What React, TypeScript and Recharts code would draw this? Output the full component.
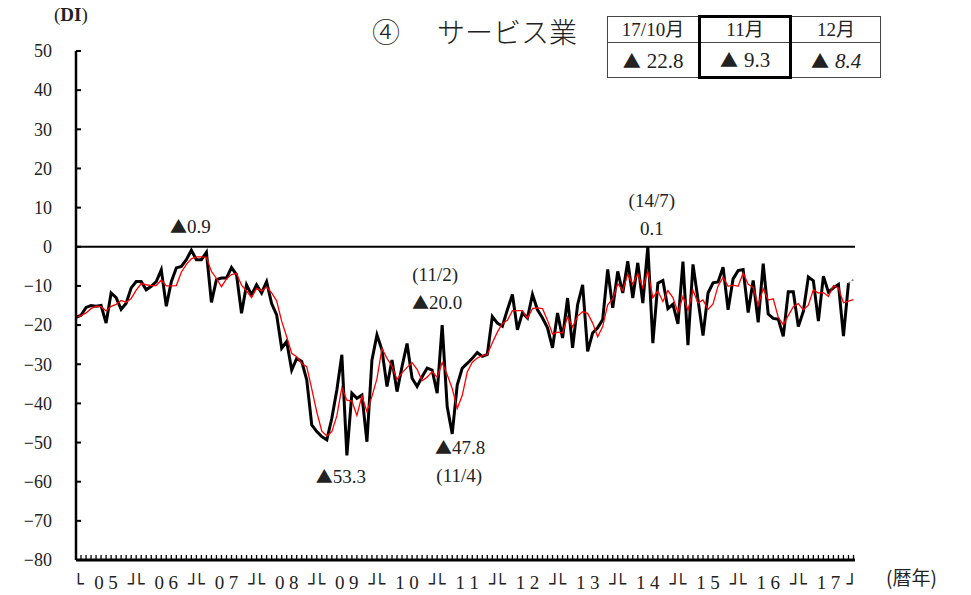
import React from "react";
import { LineChart, Line, XAxis, YAxis, ReferenceLine, ReferenceDot } from "recharts";

// monthly DI, 2005/01 .. 2017/11 (index 0 = 2005/01)
const DI = [
  -18, -17.5, -15.5, -15, -15.2, -15, -19.5, -11.8, -13, -16, -14.4, -10.5,
  -8.9, -8.9, -11, -10.1, -8.9, -5.9, -15.2, -8.9, -5.4, -5, -3.3, -0.9,
  -3.3, -3.3, -1.4, -14.2, -8.4, -8, -8, -5.3, -7.1, -17, -9.7, -12.3,
  -9.7, -11.8, -8.9, -14.5, -17.4, -25.9, -24.2, -31.5, -28.5, -29.3, -34, -45.5,
  -47.2, -48.5, -49.3, -43.8, -36.6, -27.6, -53.3, -37.4, -38.7, -37.9, -49.8, -28.9,
  -22.5, -26.4, -35.7, -28.9, -37, -30.6, -24.7, -33.6, -35.7, -33.2, -31, -31.5,
  -37.4, -20.0, -40.8, -47.8, -35.3, -31, -29.8, -28.5, -27, -28, -27.5, -17.8,
  -19.5, -20.3, -16.1, -12.2, -21.2, -16.9, -18.2, -12.2, -16.1, -18.2, -20.7, -25.8,
  -16.9, -23.3, -13.1, -25.8, -14.8, -9.7, -26.7, -22, -20.7, -18.6, -5.8, -15.6,
  -6.3, -11.8, -3.7, -13.1, -4.1, -14.4, 0.1, -24.6, -9.3, -8.6, -15.8, -14.7,
  -19.7, -3.8, -25.1, -4.5, -13.5, -22.7, -11.8, -9.2, -9, -5.2, -16.1, -8.2,
  -6.1, -5.8, -16.8, -8.6, -19.3, -4.3, -17.2, -18.3, -18.5, -22.9, -11.5, -11.5,
  -20.4, -16.5, -7.7, -8.7, -19, -7.5, -11.6, -10.5, -9.6, -22.8, -9.3,
];

// red line, 2005/01 .. 2017/12
const AVG = [
  -18, -17.6, -16.9, -15.8, -15.2, -15.3, -16.4, -15.2, -14.7, -13.7, -14.2, -13.2,
  -11.1, -9.4, -9.7, -9.9, -9.9, -8.5, -10, -10, -9.9, -6.5, -4.5, -3.1,
  -2.6, -2.6, -2.7, -6.3, -8.1, -10.2, -8.2, -7.1, -6.8, -9.8, -11.3, -13,
  -10.6, -11.3, -10.3, -11.8, -13.8, -19, -23, -27.2, -28.1, -29.8, -30.6, -36.3,
  -42.2, -47.1, -48.3, -47.2, -43.2, -36, -39.2, -39.4, -43.1, -38.1, -42.1, -38.2,
  -33.7, -26, -28.5, -30.5, -33.9, -32.2, -30.8, -29.6, -31.3, -34.2, -33.3, -31.9,
  -33.3, -29.6, -32.7, -36.2, -41.3, -38, -32, -29.5, -28.4, -27.8, -27.5, -24.5,
  -21.8, -19.6, -18.8, -16.3, -16.3, -16.3, -18.3, -15.8, -15.6, -15.8, -18.8, -22.3,
  -21.8, -22, -17.9, -20.5, -17.7, -16.6, -17, -19.5, -23, -20.4, -14.8, -13.3,
  -9.4, -11.2, -7, -9.5, -6.9, -10.5, -6.2, -13, -11.3, -14, -11.2, -13,
  -16.7, -12.7, -16.2, -11.1, -14.4, -13.6, -16, -14.6, -10, -7.8, -10.1, -9.8,
  -10.1, -6.7, -9.6, -10.4, -14.9, -10.7, -13.6, -13.3, -18, -19.9, -17.6, -15.3,
  -14.5, -16.1, -14.9, -11, -11.8, -11.7, -12.7, -9.9, -10.6, -14.3, -13.9, -13.5,
];

// 17/11 actual -> 17/12 forecast
const FORECAST = [-9.3, -8.4];
const FORECAST_START = 154;

const YEARS = ["05", "06", "07", "08", "09", "10", "11", "12", "13", "14", "15", "16", "17"];
const Y_TICKS = [50, 40, 30, 20, 10, 0, -10, -20, -30, -40, -50, -60, -70, -80];
const MONTH_TICKS = AVG.map((_, i) => i);

const TABLE_HEAD = ["17/10月", "11月", "12月"];
const TABLE_VALUES = ["22.8", "9.3", "8.4"];

const chartData = AVG.map((ma, m) => ({
  m,
  di: m < DI.length ? DI[m] : null,
  ma,
  fc: m >= FORECAST_START ? FORECAST[m - FORECAST_START] : null,
}));

const SERIF = '"Liberation Serif", "DejaVu Serif", "Noto Sans CJK JP", serif';
const CJK = '"Noto Sans CJK JP", sans-serif';
const BOX = '"DejaVu Sans", sans-serif';
const TXT = "#222";

const fmtY = (v: number) => (v < 0 ? "\u2212" + Math.abs(v) : String(v));

const YTick = ({ x, y, payload }: any) => (
  <g>
    <line x1={x} x2={x + 5} y1={y} y2={y} stroke="#000" strokeWidth={2} />
    <text x={x - 24} y={y} dy="0.35em" textAnchor="end" fontFamily={SERIF} fontSize={18} fill={TXT}>
      {fmtY(payload.value)}
    </text>
  </g>
);

const bracket = (x: number, y: number, t: string, ls = 0) => (
  <text x={x} y={y + 30} fontFamily={BOX} fontSize={18} letterSpacing={ls} fill={TXT}>
    {t}
  </text>
);

const XTick = ({ x, y, payload }: any) => {
  const v = payload.value as number;
  const label = v % 12 === 6 ? YEARS[(v - 6) / 12] : null;
  const isLast = label === YEARS[YEARS.length - 1];
  return (
    <g>
      <line x1={x} x2={x} y1={y - 1} y2={y - 5} stroke="#000" strokeWidth={1.3} />
      {v === 0 && bracket(x - 3, y, "└")}
      {v > 0 && v % 12 === 0 && bracket(x - 8.4, y, "┘└", -4.8)}
      {label && (
        <g fill={TXT} fontFamily={SERIF} fontSize={19}>
          <text x={x - 7} y={y + 29} textAnchor="middle">{label[0]}</text>
          <text x={x + 7} y={y + 29} textAnchor="middle">{label[1]}</text>
        </g>
      )}
      {isLast && bracket(x + 18, y, "┘")}
    </g>
  );
};

// text starting with ▲ gets the triangle in a CJK face (full-size glyph)
const noteText = (t: string) =>
  t.startsWith("▲") ? (
    <>
      <tspan fontFamily={CJK} fontSize={17}>▲</tspan>
      <tspan>{t.slice(1)}</tspan>
    </>
  ) : (
    t
  );

const noteShape = (lines: { t: string; dx: number; dy: number }[]) => (p: any) => (
  <g fontFamily={SERIF} fontSize={19} fill={TXT}>
    {lines.map((l, i) => (
      <text key={i} x={p.cx + l.dx} y={p.cy + l.dy} dy="0.35em" textAnchor="middle">
        {noteText(l.t)}
      </text>
    ))}
  </g>
);

export default function App() {
  const cell = (c: number, row: number): React.CSSProperties => {
    const thick = c === 1;
    return {
      border: "1px solid #444",
      borderLeft: thick ? "3px solid #000" : "1px solid #444",
      borderRight: thick ? "3px solid #000" : "1px solid #444",
      borderTop: thick && row === 0 ? "3px solid #000" : "1px solid #444",
      borderBottom: thick && row === 1 ? "3px solid #000" : "1px solid #444",
      textAlign: "center",
      padding: 0,
      color: TXT,
      whiteSpace: "nowrap",
    };
  };
  const titleStyle: React.CSSProperties = {
    position: "absolute",
    top: 14,
    fontSize: 28,
    fontWeight: 300,
    lineHeight: "34px",
    color: TXT,
    whiteSpace: "nowrap",
    fontFamily: CJK,
  };
  return (
    <div style={{ position: "absolute", left: 0, top: 0, width: 971, height: 595, background: "#fff", fontFamily: SERIF }}>
      <div style={{ position: "absolute", left: 54, top: 4, fontSize: 19, lineHeight: "22px", color: TXT }}>
        (<b>DI</b>)
      </div>
      <div style={{ ...titleStyle, left: 372 }}>④</div>
      <div style={{ ...titleStyle, left: 437 }}>サービス業</div>
      <div style={{ position: "absolute", left: 886, top: 565, fontSize: 19, lineHeight: "24px", color: TXT, fontFamily: CJK }}>
        (暦年)
      </div>
      <table style={{ position: "absolute", left: 607, top: 15, borderCollapse: "collapse", fontFamily: SERIF }}>
        <tbody>
          <tr style={{ height: 26 }}>
            {TABLE_HEAD.map((h, c) => (
              <td key={c} style={{ ...cell(c, 0), width: c === 0 ? 90 : 88, fontSize: 19, lineHeight: "22px" }}>
                {h}
              </td>
            ))}
          </tr>
          <tr style={{ height: 35 }}>
            {TABLE_VALUES.map((v, c) => (
              <td key={c} style={{ ...cell(c, 1), fontSize: 21, lineHeight: "26px" }}>
                <span style={{ fontFamily: CJK, fontSize: 18, marginRight: 6 }}>▲</span>
                {c === 2 ? <i>{v}</i> : v}
              </td>
            ))}
          </tr>
        </tbody>
      </table>
      <LineChart width={971} height={595} data={chartData} margin={{ top: 51, right: 116, bottom: 0, left: 26 }}>
        <XAxis
          dataKey="m"
          type="number"
          domain={[0, 155.3]}
          ticks={MONTH_TICKS}
          interval={0}
          height={35}
          tickSize={0}
          tickMargin={0}
          tickLine={false}
          tick={<XTick />}
          axisLine={{ stroke: "#000", strokeWidth: 3 }}
        />
        <YAxis
          type="number"
          domain={[-80, 50]}
          ticks={Y_TICKS}
          interval={0}
          width={50}
          tickSize={0}
          tickMargin={0}
          tickLine={false}
          tick={<YTick />}
          axisLine={{ stroke: "#000", strokeWidth: 2.5 }}
        />
        <ReferenceLine y={0} stroke="#000" strokeWidth={2} />
        <Line type="linear" dataKey="di" stroke="#000" strokeWidth={3} dot={false} isAnimationActive={false} connectNulls={false} />
        <Line type="linear" dataKey="fc" stroke="#777" strokeWidth={1.5} strokeDasharray="2 2" dot={false} isAnimationActive={false} />
        <Line type="linear" dataKey="ma" stroke="#ff0000" strokeWidth={1.3} dot={false} isAnimationActive={false} />
        <ReferenceDot x={23} y={DI[23]} r={0} shape={noteShape([{ t: "▲0.9", dx: -1, dy: -24 }])} />
        <ReferenceDot
          x={73}
          y={DI[73]}
          r={0}
          shape={noteShape([
            { t: "(11/2)", dx: -7, dy: -51 },
            { t: "▲20.0", dx: -5, dy: -23 },
          ])}
        />
        <ReferenceDot
          x={75}
          y={DI[75]}
          r={0}
          shape={noteShape([
            { t: "▲47.8", dx: 8, dy: 13 },
            { t: "(11/4)", dx: 7, dy: 41 },
          ])}
        />
        <ReferenceDot x={54} y={DI[54]} r={0} shape={noteShape([{ t: "▲53.3", dx: -6, dy: 21 }])} />
        <ReferenceDot
          x={114}
          y={DI[114]}
          r={0}
          shape={noteShape([
            { t: "(14/7)", dx: 4, dy: -46 },
            { t: "0.1", dx: 4, dy: -18 },
          ])}
        />
      </LineChart>
    </div>
  );
}
